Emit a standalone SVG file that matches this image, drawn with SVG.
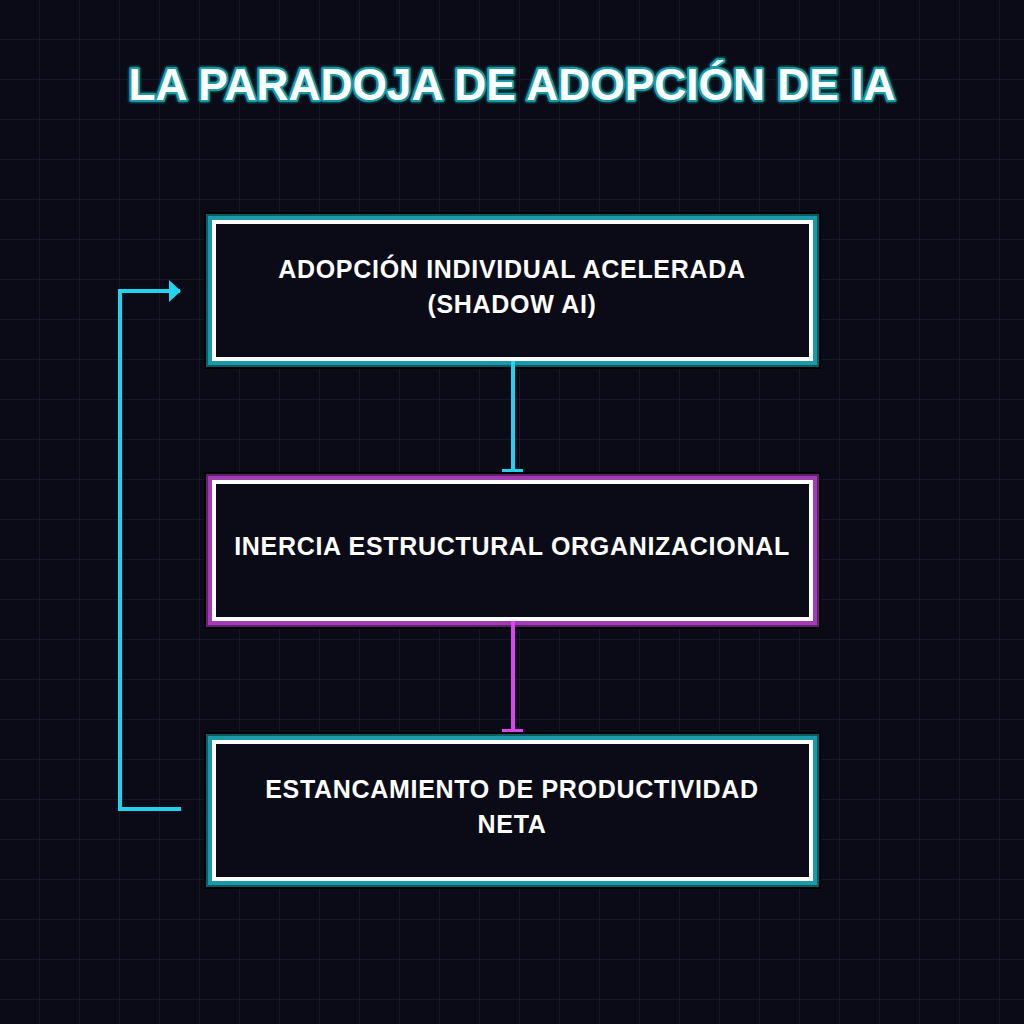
<svg xmlns="http://www.w3.org/2000/svg" width="1024" height="1024" viewBox="0 0 1024 1024">
<defs>
<pattern id="grid" width="40" height="40" patternUnits="userSpaceOnUse">
<path d="M40 0V40M0 40H40" fill="none" stroke="#1a1a30" stroke-width="1.5"/>
</pattern>
<marker id="arrC" viewBox="0 0 12 22" refX="11" refY="11" markerWidth="12" markerHeight="22" markerUnits="userSpaceOnUse" orient="auto">
<path d="M0 0L12 11L0 22Z" fill="#22d3ee"/>
</marker>
</defs>
<style>
.title{font-family:"Liberation Sans",Arial,sans-serif;font-weight:bold;font-size:44.3px;text-anchor:middle}
.lbl{font-family:"Liberation Sans",Arial,sans-serif;font-weight:bold;font-size:25px;letter-spacing:0.7px;fill:#ffffff;text-anchor:middle}
.box{fill:#0b0b18;stroke:#ffffff;stroke-width:4}
.ot{fill:none;stroke:#000000;stroke-width:20}
.tg1{fill:none;stroke:#0d5a63;stroke-width:16}
.tg2{fill:none;stroke:#1a9aa8;stroke-width:12}
.mg1{fill:none;stroke:#61206d;stroke-width:16}
.mg2{fill:none;stroke:#a23cb3;stroke-width:12}
.cy{stroke:#22d3ee;stroke-width:4;fill:none}
.mag{stroke:#d946ef;stroke-width:4;fill:none}
</style>
<rect width="1024" height="1024" fill="#0b0b18"/>
<rect width="1024" height="1024" fill="url(#grid)"/>

<g id="title">
<text class="title" x="512" y="100" fill="none" stroke="#062a30" stroke-width="8" stroke-linejoin="round">LA PARADOJA DE ADOPCIÓN DE IA</text>
<text class="title" x="512" y="100" fill="none" stroke="#1a9aa8" stroke-width="4.5" stroke-linejoin="round">LA PARADOJA DE ADOPCIÓN DE IA</text>
<text class="title" x="512" y="100" fill="#ffffff">LA PARADOJA DE ADOPCIÓN DE IA</text>
</g>

<g id="node1">
<rect class="ot" x="214" y="222" width="597" height="137"/>
<rect class="tg1" x="214" y="222" width="597" height="137"/>
<rect class="tg2" x="214" y="222" width="597" height="137"/>
<rect class="box" x="214" y="222" width="597" height="137"/>
<text class="lbl" x="512" y="278">ADOPCIÓN INDIVIDUAL ACELERADA</text>
<text class="lbl" x="512" y="313">(SHADOW AI)</text>
</g>

<g id="node2">
<rect class="ot" x="214" y="482" width="597" height="137"/>
<rect class="mg1" x="214" y="482" width="597" height="137"/>
<rect class="mg2" x="214" y="482" width="597" height="137"/>
<rect class="box" x="214" y="482" width="597" height="137"/>
<text class="lbl" x="512" y="555">INERCIA ESTRUCTURAL ORGANIZACIONAL</text>
</g>

<g id="node3">
<rect class="ot" x="214" y="742" width="597" height="137"/>
<rect class="tg1" x="214" y="742" width="597" height="137"/>
<rect class="tg2" x="214" y="742" width="597" height="137"/>
<rect class="box" x="214" y="742" width="597" height="137"/>
<text class="lbl" x="512" y="798">ESTANCAMIENTO DE PRODUCTIVIDAD</text>
<text class="lbl" x="512" y="833">NETA</text>
</g>

<g id="connectors">
<line class="cy" x1="513" y1="361" x2="513" y2="471"/>
<rect x="502" y="469" width="21" height="3" fill="#22d3ee"/>
<line class="mag" x1="513" y1="621" x2="513" y2="731"/>
<rect x="502" y="729" width="21" height="3" fill="#d946ef"/>
<polyline class="cy" points="181,809 120,809 120,291 180,291" marker-end="url(#arrC)"/>
</g>
</svg>
